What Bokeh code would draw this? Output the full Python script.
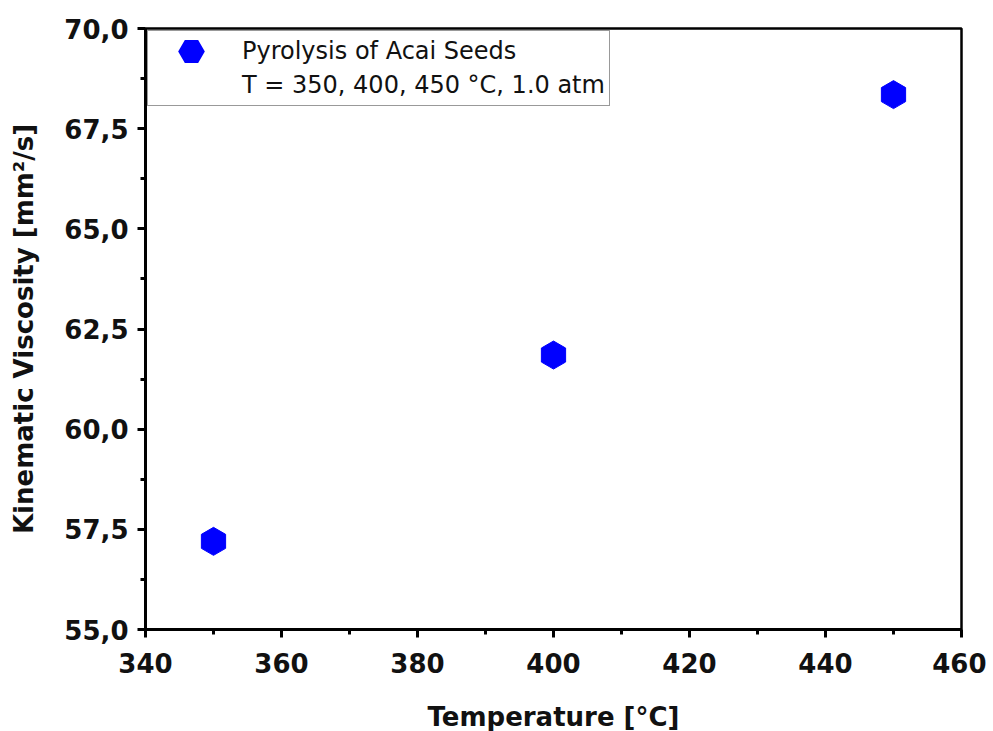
from bokeh.plotting import figure
from bokeh.models import FixedTicker, Legend, LegendItem, Range1d
from bokeh.embed import file_html
from bokeh.resources import INLINE
import numpy as np

# ---- data ----
temperature = [350, 400, 450]
viscosity = [57.2, 61.85, 68.35]

x_ticks = [340, 360, 380, 400, 420, 440, 460]
x_minor = [350, 370, 390, 410, 430, 450]
y_ticks = [55.0, 57.5, 60.0, 62.5, 65.0, 67.5, 70.0]
y_tick_labels = ["55,0", "57,5", "60,0", "62,5", "65,0", "67,5", "70,0"]
y_minor = [56.25, 58.75, 61.25, 63.75, 66.25, 68.75]

series_label = "Pyrolysis of Acai Seeds"
condition_label = "T = 350, 400, 450 \u00b0C, 1.0 atm"
x_title = "Temperature [\u00b0C]"
y_title = "Kinematic Viscosity [mm\u00b2/s]"

FONT = "DejaVu Sans"
BLUE = "#0000FF"

p = figure(frame_width=816, frame_height=601,
           x_range=Range1d(340, 460), y_range=Range1d(55, 70),
           output_backend="svg", toolbar_location=None,
           min_border_left=145, min_border_top=28, min_border_right=25,
           min_border_bottom=60)

p.grid.visible = False
p.outline_line_color = "black"
p.outline_line_width = 2.5
p.background_fill_color = "white"
p.border_fill_color = "white"

# data points (pointy-top hexagons)
p.scatter(x=temperature, y=viscosity, marker="hex", size=28, angle=np.pi / 6,
          fill_color=BLUE, line_color=BLUE, line_width=1)

# legend-only renderers (NaN position: nothing drawn in the plot area)
leg_r1 = p.scatter(x=[np.nan], y=[np.nan], marker="hex", fill_color=BLUE,
                   line_color=BLUE, line_width=12, line_join="miter")
leg_r2 = p.scatter(x=[np.nan], y=[np.nan], marker="hex", fill_alpha=0, line_alpha=0)

legend = Legend(items=[LegendItem(label=series_label, renderers=[leg_r1]),
                       LegendItem(label=condition_label, renderers=[leg_r2])],
                location="top_left", margin=2, padding=4, spacing=2,
                glyph_width=78, glyph_height=32, label_height=32,
                label_standoff=12, label_text_font=FONT,
                label_text_font_size="24px", label_text_color="#111111",
                border_line_color="#333333", border_line_width=1.5,
                background_fill_color="white", background_fill_alpha=1.0)
p.add_layout(legend)

# axes
for ax in (p.xaxis[0], p.yaxis[0]):
    ax.axis_line_width = 3
    ax.axis_line_color = "black"
    ax.major_tick_line_width = 3
    ax.minor_tick_line_width = 3
    ax.major_tick_out = 8
    ax.major_tick_in = 0
    ax.minor_tick_out = 5
    ax.minor_tick_in = 0
    ax.major_label_text_font = FONT
    ax.major_label_text_font_style = "bold"
    ax.major_label_text_font_size = "26px"
    ax.major_label_text_color = "#111111"
    ax.axis_label_text_font = FONT
    ax.axis_label_text_font_style = "bold"
    ax.axis_label_text_font_size = "26px"
    ax.axis_label_text_color = "#111111"

p.xaxis[0].ticker = FixedTicker(ticks=x_ticks, minor_ticks=x_minor)
p.yaxis[0].ticker = FixedTicker(ticks=y_ticks, minor_ticks=y_minor)
p.yaxis[0].major_label_overrides = dict(zip(y_ticks, y_tick_labels))

p.xaxis[0].axis_label = x_title
p.yaxis[0].axis_label = y_title
p.xaxis[0].major_label_standoff = 15
p.yaxis[0].major_label_standoff = 9
p.xaxis[0].axis_label_standoff = 26
p.yaxis[0].axis_label_standoff = 22

open("out.html", "w").write(file_html(p, INLINE))
